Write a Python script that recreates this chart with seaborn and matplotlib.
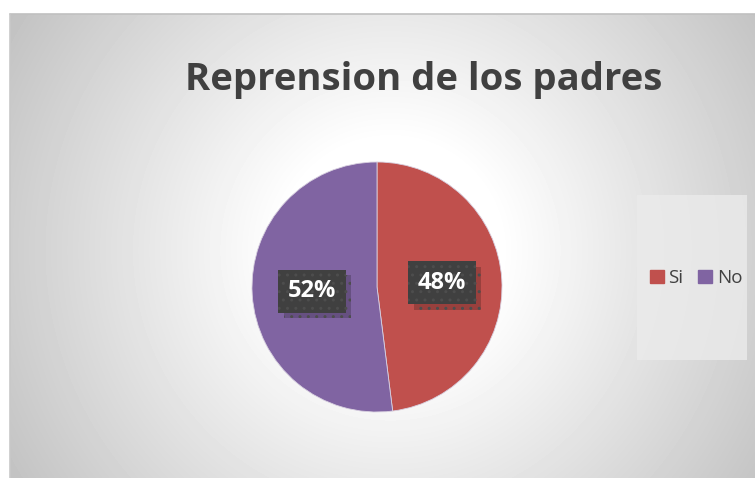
import numpy as np
import matplotlib
matplotlib.use("Agg")
import matplotlib.pyplot as plt
import matplotlib.patches as mpatches
import matplotlib.patheffects as pe
import seaborn as sns

# datos
categorias = ["Si", "No"]
valores = [48, 52]
colores = ["#C0504D", "#8064A2"]
titulo = "Reprension de los padres"

sns.set_theme(style="white")
plt.rcParams['font.family'] = ['Open Sans', 'DejaVu Sans']

W, H = 755, 478
fig = plt.figure(figsize=(W / 100, H / 100), dpi=100)
fig.patch.set_facecolor("white")

# fondo con degradado radial (estilo Excel)
bg = fig.add_axes([10 / W, 0, (W - 10) / W, (H - 14) / H])
yy, xx = np.mgrid[14:H, 10:W]
d = np.sqrt((xx - 390.0) ** 2 + (yy - 250.0) ** 2)
v = 255 - np.clip(d - 110, 0, None) / 340.0 * 62
v = np.clip(v, 190, 255) / 255.0
bg.imshow(v, cmap="gray", vmin=0, vmax=1, aspect="auto", interpolation="bilinear")
bg.set_axis_off()
fig.add_artist(plt.Line2D([10 / W, 1], [(H - 14) / H] * 2, color="#c0c0c0", lw=1.2))
fig.add_artist(plt.Line2D([10 / W] * 2, [0, (H - 14) / H], color="#c8c8c8", lw=1.2))

# titulo
fig.text(424 / W, 1 - 80 / H, titulo, ha="center", va="center",
         fontsize=27.5, fontweight="bold", color="#404040")

# pastel
cx, cy, r = 377, 287, 125
ax = fig.add_axes([(cx - r) / W, (H - cy - r) / H, 2 * r / W, 2 * r / H])
wedges, _ = ax.pie(valores, colors=colores, startangle=90, counterclock=False,
                   radius=1, wedgeprops=dict(linewidth=0.6, edgecolor="#d8d0e0"))
ax.set_xlim(-1, 1)
ax.set_ylim(-1, 1)
ax.set_axis_off()

total = sum(valores)
ang = 90.0
for val in valores:
    frac = val / total
    mid = np.deg2rad(ang - frac * 180)
    ang -= frac * 360
    x, y = 0.52 * np.cos(mid), 0.52 * np.sin(mid)
    t = ax.text(x, y, f"{val}%", ha="center", va="center", fontsize=17,
                fontweight="bold", color="white",
                bbox=dict(boxstyle="square,pad=0.4", facecolor="#404040",
                          edgecolor="#4d4d4d", hatch="..", lw=0))
    t.get_bbox_patch().set_path_effects(
        [pe.withSimplePatchShadow(offset=(4, -4), shadow_rgbFace="black", alpha=0.2)])

# leyenda
fig.add_artist(mpatches.Rectangle((637 / W, 1 - 360 / H), 110 / W, 165 / H,
                                  transform=fig.transFigure, facecolor="#ebebeb",
                                  edgecolor="none", alpha=0.8))
handles = [mpatches.Patch(color=c, label=l) for c, l in zip(colores, categorias)]
fig.legend(handles=handles, loc="center", bbox_to_anchor=(696 / W, 1 - 278 / H),
           ncol=2, frameon=False, fontsize=13.5, handlelength=0.75, handleheight=0.75,
           handletextpad=0.25, columnspacing=0.8, labelcolor="#404040")

fig.savefig("out.png", dpi=100)
